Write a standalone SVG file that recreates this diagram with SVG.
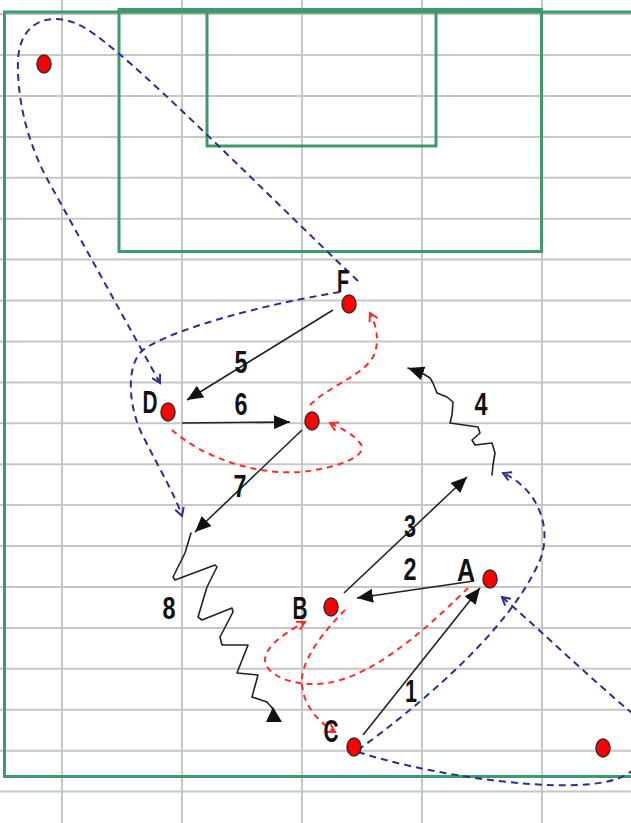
<svg xmlns="http://www.w3.org/2000/svg" width="631" height="823" viewBox="0 0 631 823">
<style>
.grid{stroke:#c6c6c6;stroke-width:2;fill:none}
.field{stroke:#3e9a6c;stroke-width:3;fill:none}
.pass{stroke:#222;stroke-width:1.6;fill:none;marker-end:url(#ah)}
.drib{stroke:#222;stroke-width:1.6;fill:none;stroke-linejoin:round;stroke-linecap:round}
.run{stroke:#2b2f8f;stroke-width:2;fill:none;stroke-dasharray:7 5;marker-end:url(#bv)}
.move{stroke:#ff2a2a;stroke-width:2;fill:none;stroke-dasharray:6 5;marker-end:url(#rv)}
.p{fill:#ff0000;stroke:#3a2a2a;stroke-width:1.5}
.t{font-family:"Liberation Sans",Arial,sans-serif;font-size:31px;font-weight:bold;fill:#111;text-anchor:middle}
</style>
<defs>
<marker id="ah" markerUnits="userSpaceOnUse" viewBox="0 0 16 14" refX="16" refY="7" markerWidth="16" markerHeight="14" orient="auto">
<path d="M0,0 L16,7 L0,14 z" fill="#111"/>
</marker>
<marker id="bv" markerUnits="userSpaceOnUse" viewBox="-10 -6 12 12" refX="0" refY="0" markerWidth="12" markerHeight="12" orient="auto">
<path d="M-8,-4.5 L0,0 L-8,4.5" fill="none" stroke="#2b2f8f" stroke-width="2"/>
</marker>
<marker id="rv" markerUnits="userSpaceOnUse" viewBox="-10 -6 12 12" refX="0" refY="0" markerWidth="12" markerHeight="12" orient="auto">
<path d="M-8,-4.5 L0,0 L-8,4.5" fill="none" stroke="#ff2a2a" stroke-width="2"/>
</marker>
</defs>
<rect width="631" height="823" fill="#ffffff"/>
<g id="grid">
<path class="grid" d="M62,0V823M182,0V823M302,0V823M422,0V823M542,0V823"/>
<path class="grid" d="M0,14.1H631M0,55H631M0,95.9H631M0,136.9H631M0,177.8H631M0,218.7H631M0,259.6H631M0,300.5H631M0,341.5H631M0,382.4H631M0,423.3H631M0,464.2H631M0,505.1H631M0,546.1H631M0,587H631M0,627.9H631M0,668.8H631M0,709.7H631M0,750.7H631M0,791.6H631"/>
</g>
<g id="field">
<path class="field" d="M640,12H4.5V776.5H640"/>
<rect class="field" x="119" y="9.5" width="422.5" height="242"/>
<rect class="field" x="207" y="10" width="229" height="136"/>
</g>
<g id="connectors">
<path class="run" d="M358,281 C250,178 130,55 85,28 C55,10 20,18 18,60 C17,95 25,135 45,175 L160,383"/>
<path class="run" d="M340,292 C260,305 170,330 143,350 C125,365 128,410 145,440 C160,470 175,495 182,516"/>
<path class="run" d="M358,750 C420,705 510,630 540,560 C552,530 540,490 503,473"/>
<path class="run" d="M633,714 C590,678 540,630 502,597"/>
<path class="run" style="marker-end:none" d="M358,752 C420,772 520,788 580,785 C610,783 625,778 635,768"/>
<path class="move" d="M310,405 C330,385 365,375 374,355 C380,340 376,325 370,313"/>
<path class="move" d="M172,430 C200,455 250,475 300,472 C340,468 370,455 360,443 C352,433 340,428 330,423"/>
<path class="move" d="M468,588 C440,615 380,675 327,683 C295,688 265,675 265,660 C265,645 290,630 305,622"/>
<path class="move" d="M345,610 C325,630 305,655 302,677 C300,700 315,720 335,732"/>
<line class="pass" x1="363" y1="735" x2="480" y2="588"/>
<line class="pass" x1="474" y1="581" x2="357" y2="598"/>
<line class="pass" x1="344" y1="593" x2="467" y2="477"/>
<line class="pass" x1="333" y1="310" x2="187" y2="400"/>
<line class="pass" x1="182" y1="423" x2="290" y2="422"/>
<line class="pass" x1="302" y1="430" x2="195" y2="532"/>
<path class="drib" style="marker-end:url(#ah)" d="M492,475 L493,465 L495,453 L492,443 L475,445 L472,440 L480,433 L478,427 L450,423 L452,415 L453,402 L447,397 L437,393 L433,383 L430,378 L422,373 L408,368"/>
<path class="drib" d="M191,533 L185,553 L173,577 L175,580 L215,565 L217,567 L207,587 L198,617 L202,620 L232,608 L233,612 L220,637 L222,645 L248,645 L237,673 L258,675 L252,697 L267,702 L273,709"/>
<polygon points="273,707 266,722 282,722" fill="#111"/>
<text class="t" x="411" y="702" textLength="12" lengthAdjust="spacingAndGlyphs">1</text>
<text class="t" x="410" y="580" textLength="13" lengthAdjust="spacingAndGlyphs">2</text>
<text class="t" x="410" y="537" textLength="12" lengthAdjust="spacingAndGlyphs">3</text>
<text class="t" x="481" y="415" textLength="13" lengthAdjust="spacingAndGlyphs">4</text>
<text class="t" x="241" y="373" textLength="13" lengthAdjust="spacingAndGlyphs">5</text>
<text class="t" x="241" y="415" textLength="13" lengthAdjust="spacingAndGlyphs">6</text>
<text class="t" x="240" y="497" textLength="13" lengthAdjust="spacingAndGlyphs">7</text>
<text class="t" x="169" y="619" textLength="13" lengthAdjust="spacingAndGlyphs">8</text>
</g>
<g id="player-topleft"><ellipse class="p" cx="44" cy="64" rx="7" ry="9"/></g>
<g id="player-F"><ellipse class="p" cx="349" cy="304" rx="7" ry="9"/><text class="t" x="343" y="292" textLength="12" lengthAdjust="spacingAndGlyphs">F</text></g>
<g id="player-D"><ellipse class="p" cx="168" cy="412" rx="7" ry="9"/><text class="t" x="150" y="413" textLength="15" lengthAdjust="spacingAndGlyphs">D</text></g>
<g id="player-mid"><ellipse class="p" cx="312" cy="421" rx="7" ry="9"/></g>
<g id="player-B"><ellipse class="p" cx="331" cy="607" rx="7" ry="9"/><text class="t" x="300" y="619" textLength="15" lengthAdjust="spacingAndGlyphs">B</text></g>
<g id="player-A"><ellipse class="p" cx="490" cy="579" rx="7" ry="9"/><text class="t" x="466" y="581" textLength="18" lengthAdjust="spacingAndGlyphs">A</text></g>
<g id="player-C"><ellipse class="p" cx="354" cy="747" rx="7" ry="9"/><text class="t" x="331" y="742" textLength="15" lengthAdjust="spacingAndGlyphs">C</text></g>
<g id="player-bottomright"><ellipse class="p" cx="603" cy="748" rx="7" ry="9"/></g>
</svg>
